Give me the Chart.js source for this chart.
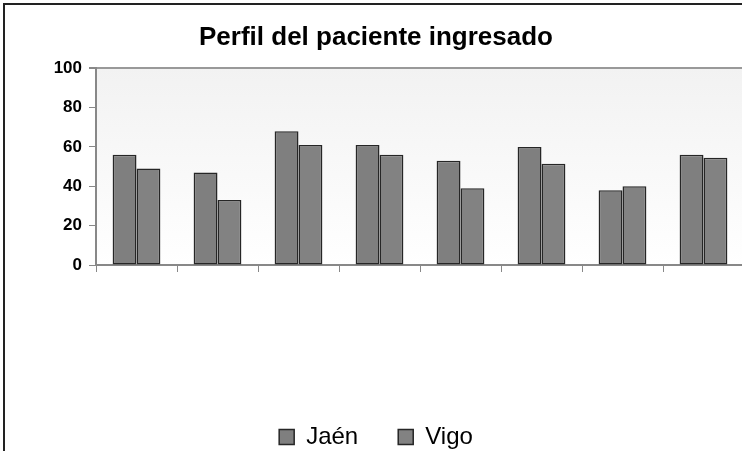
<!DOCTYPE html>
<html>
<head>
<meta charset="utf-8">
<script src="https://cdn.jsdelivr.net/npm/chart.js@4/dist/chart.umd.min.js"></script>
<style>
html,body{margin:0;padding:0;background:#fff;overflow:hidden;width:742px;height:451px;}
#wrap{position:absolute;left:0;top:0;width:758px;height:459px;}
#frame{position:absolute;left:3px;top:3px;width:800px;height:500px;border-left:2px solid #222;border-top:2px solid #222;pointer-events:none;}
</style>
</head>
<body>
<div id="wrap"><canvas id="c" width="758" height="459"></canvas></div>
<div id="frame"></div>
<script>
const categories = ['1','2','3','4','5','6','7','8'];
const jaen = [56, 47, 68, 61, 53, 60, 38, 56];
const vigo = [49, 33, 61, 56, 39, 51.5, 40, 54.5];
const yTicks = [0, 20, 40, 60, 80, 100];
const title = 'Perfil del paciente ingresado';

const bgPlugin = {
  id: 'bg',
  beforeDraw(chart) {
    const {ctx, chartArea: a} = chart;
    const g = ctx.createLinearGradient(0, a.top, 0, a.bottom);
    g.addColorStop(0, '#f2f2f2');
    g.addColorStop(1, '#ffffff');
    ctx.save();
    ctx.fillStyle = g;
    ctx.fillRect(a.left, a.top, a.right - a.left, a.bottom - a.top);
    ctx.restore();
  }
};

new Chart(document.getElementById('c'), {
  type: 'bar',
  data: {
    labels: categories,
    datasets: [
      {label: 'Jaén', data: jaen, backgroundColor: '#7f7f7f', borderColor: '#262626', borderWidth: 1.5, borderSkipped: false},
      {label: 'Vigo', data: vigo, backgroundColor: '#828282', borderColor: '#262626', borderWidth: 1.5, borderSkipped: false}
    ]
  },
  options: {
    responsive: false,
    animation: false,
    layout: {padding: {left: 8, right: 14, top: 20, bottom: 0}},
    datasets: {bar: {categoryPercentage: 0.59, barPercentage: 1.0}},
    plugins: {
      title: {display: true, text: title, color: '#000', font: {family: 'Liberation Sans', size: 26, weight: 'bold'}, padding: {top: 2, bottom: 15}},
      legend: {position: 'bottom', labels: {color: '#000', font: {family: 'Liberation Sans', size: 24}, boxWidth: 15, boxHeight: 15, padding: 40}},
      tooltip: {enabled: false}
    },
    scales: {
      x: {
        grid: {drawOnChartArea: false, tickLength: 7, color: '#888', tickColor: '#888', offset: true},
        border: {color: '#888', width: 2},
        ticks: {display: false},
        afterFit: s => { s.height = 120; }
      },
      y: {
        min: 0, max: 100,
        afterBuildTicks: s => { s.ticks = yTicks.map(v => ({value: v})); },
        grid: {drawOnChartArea: true, tickLength: 7, lineWidth: c => c.tick && c.tick.value === 100 ? 2 : 1, color: c => c.tick && c.tick.value === 100 ? '#999' : 'rgba(0,0,0,0)', tickColor: '#888'},
        border: {color: '#888', width: 2},
        ticks: {color: '#000', padding: 7, font: {family: 'Liberation Sans', size: 17, weight: 'bold'}},
        afterFit: s => { s.width = 88; }
      }
    }
  },
  plugins: [bgPlugin]
});
</script>
</body>
</html>
